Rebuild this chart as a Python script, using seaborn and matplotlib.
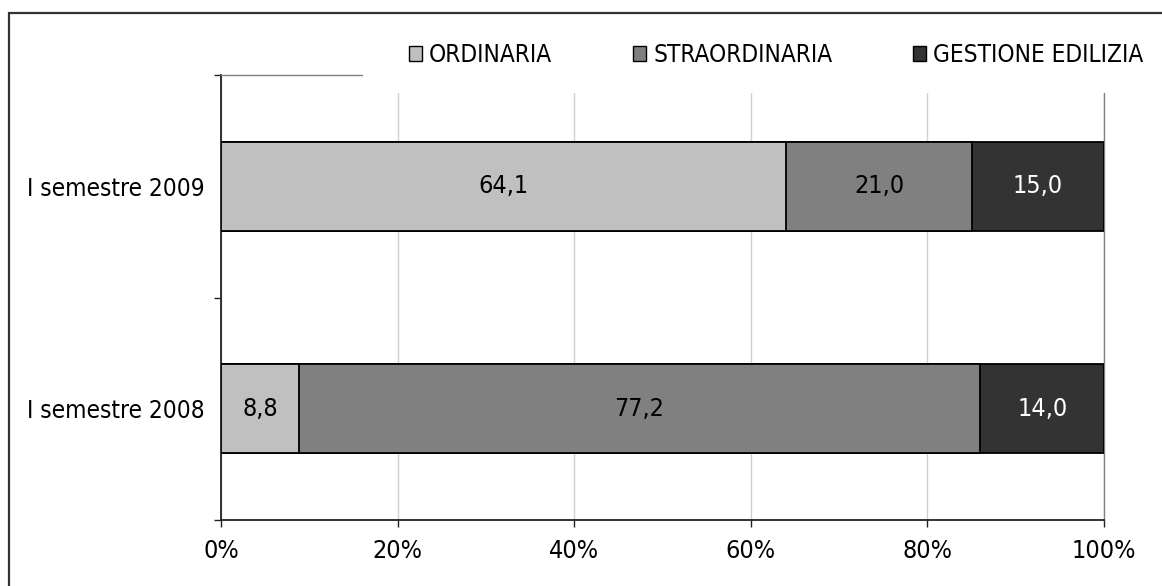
import numpy as np
import pandas as pd
import seaborn as sns
import matplotlib
matplotlib.use("Agg")
import matplotlib.pyplot as plt
from matplotlib.patches import Rectangle, Patch
from matplotlib import font_manager

# --- data -------------------------------------------------------------
periodi = ["I semestre 2009", "I semestre 2008"]
categorie = ["ORDINARIA", "STRAORDINARIA", "GESTIONE EDILIZIA"]
ordinaria = [64.1, 8.8]
straordinaria = [21.0, 77.2]
gestione = [15.0, 14.0]
colori = ["#C0C0C0", "#808080", "#333333"]
colori_testo = ["black", "black", "white"]
tick_pct = [0, 20, 40, 60, 80, 100]

sns.set_style("white")
names = {f.name for f in font_manager.fontManager.ttflist}
base_family = ["DejaVu Sans Condensed", "DejaVu Sans"] if "DejaVu Sans Condensed" in names else ["DejaVu Sans"]
plt.rcParams["font.family"] = base_family
plt.rcParams["font.stretch"] = "condensed"
plt.rcParams["text.color"] = "black"
plt.rcParams["xtick.color"] = "black"
plt.rcParams["ytick.color"] = "black"

valori = np.array([ordinaria, straordinaria, gestione])  # shape (3, n)
quote = valori / valori.sum(axis=0) * 100.0               # 100% stacked
cumulate = np.cumsum(quote, axis=0)

fig = plt.figure(figsize=(11.62, 5.86), dpi=100)
ax = fig.add_axes([221 / 1162, 66 / 586, 883 / 1162, 445 / 586])

# stacked bars: draw the cumulative totals from the outermost segment inwards
for k in range(len(categorie) - 1, -1, -1):
    df = pd.DataFrame({"periodo": periodi, "cum": cumulate[k]})
    sns.barplot(data=df, x="cum", y="periodo", order=periodi, orient="h",
                color=colori[k], saturation=1, width=0.4, errorbar=None,
                edgecolor="black", linewidth=1.3, ax=ax, zorder=3)

# value labels inside each segment
for k in range(len(categorie)):
    for i in range(len(periodi)):
        start = cumulate[k, i] - quote[k, i]
        ax.text(start + quote[k, i] / 2, i, f"{valori[k, i]:.1f}".replace(".", ","),
                ha="center", va="center", fontsize=18, color=colori_testo[k], zorder=5)

ax.set_xlim(0, 100)
ax.set_ylim(1.5, -0.5)
ax.set_xlabel("")
ax.set_ylabel("")

ax.set_xticks(tick_pct)
ax.set_xticklabels([f"{t}%" for t in tick_pct], fontsize=18)
ax.tick_params(axis="x", direction="out", length=5, width=1, color="#222222", pad=9, bottom=True)
ax.xaxis.grid(True, color="#CFCFCF", linewidth=1, zorder=0)
ax.yaxis.grid(False)
ax.set_axisbelow(True)

# category boundaries as major ticks, names as minor tick labels
ax.set_yticks([-0.5, 0.5, 1.5])
ax.set_yticklabels([])
ax.set_yticks([0, 1], minor=True)
ax.set_yticklabels(periodi, minor=True, fontsize=17.5)
ax.tick_params(axis="y", which="major", direction="out", length=5, width=1, color="#222222", left=True)
ax.tick_params(axis="y", which="minor", length=0, pad=12, left=True)

for side in ["left", "bottom"]:
    ax.spines[side].set_color("#222222")
    ax.spines[side].set_linewidth(1.3)
for side in ["top", "right"]:
    ax.spines[side].set_visible(True)
    ax.spines[side].set_color("#808080")
    ax.spines[side].set_linewidth(1.0)

# white band behind the legend area at the top of the plot
ax.add_patch(Rectangle(((363 - 221) / 883, 1 - 18 / 445), 1.2, 0.2, transform=ax.transAxes,
                       facecolor="white", edgecolor="none", clip_on=False, zorder=6))

handles = [Patch(facecolor=c, edgecolor="black", linewidth=1.0) for c in colori]
fig.legend(handles, categorie, loc="center", bbox_to_anchor=(776 / 1162, 1 - 55 / 586),
           ncol=3, frameon=False, fontsize=17.5, handlelength=0.55, handleheight=0.55,
           handletextpad=0.3, columnspacing=3.3)

# outer frame of the chart area
fig.patches.append(Rectangle((9 / 1162, -0.1), 1.2, 1.1 - 13 / 586, transform=fig.transFigure,
                             facecolor="none", edgecolor="#333333", linewidth=1.6))

fig.savefig("out.png", dpi=100)
